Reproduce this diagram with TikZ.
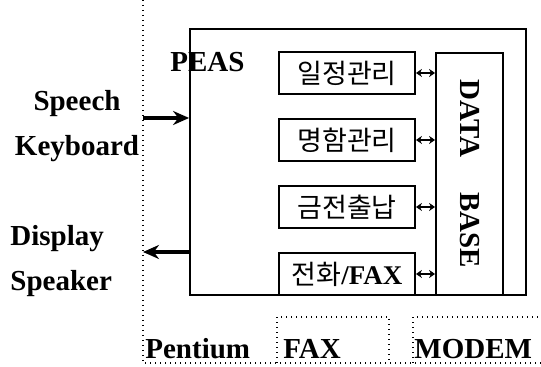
\documentclass[tikz,border=0pt]{standalone}
\usepackage{fontspec}
\setmainfont{Liberation Serif}
\newfontfamily\kr{Noto Sans CJK KR}
\usetikzlibrary{positioning,arrows.meta}
\tikzstyle{input} = [coordinate]
\tikzstyle{output} = [coordinate]
\tikzstyle{txt} = [inner sep=0pt, font=\fontsize{14.5}{17}\selectfont\bfseries]
\tikzstyle{task} = [draw, rectangle, line width=0.9pt, minimum width=68pt, minimum height=21pt, inner sep=0pt, font=\fontsize{13.5}{16}\selectfont]
\tikzstyle{frame} = [line width=0.6pt, dash pattern=on 0.5pt off 2pt]
\tikzstyle{link} = [{Stealth[length=3pt,width=4pt]}-{Stealth[length=3pt,width=4pt]}, line width=0.9pt]
\tikzstyle{io} = [-{Stealth[length=8pt,width=7pt]}, line width=1.6pt]

\begin{document}
\begin{tikzpicture}[x=0.5pt, y=-0.5pt, node distance=33.5pt]
		\useasboundingbox (0,0) rectangle (541,367);
		% system frame
		\node [draw, rectangle, line width=0.9pt, minimum width=168pt, minimum height=133pt] (peas) at (358,162) {};
		\node [txt, anchor=base west] (peaslabel) at (170,72) {PEAS};
		% tasks
		\node [task] (sched) at (347,73) {\kr 일정관리};
		\node [task, below of=sched] (card) {\kr 명함관리};
		\node [task, below of=card] (money) {\kr 금전출납};
		\node [task, below of=money] (phone) {{\kr 전화}\bfseries/FAX};
		\node [draw, rectangle, line width=0.9pt, rotate=-90, minimum width=121pt, minimum height=33.5pt, txt] (db) at (469.5,174) {DATA\hspace{17.5pt}BASE};

		\draw [link] (sched.east) -- (sched.east -| db.south);
		\draw [link] (card.east) -- (card.east -| db.south);
		\draw [link] (money.east) -- (money.east -| db.south);
		\draw [link] (phone.east) -- (phone.east -| db.south);

		% devices
		\node [txt, align=center] (inlabel) at (77,126) {Speech\\[5.5pt]Keyboard};
		\node [txt, align=left, anchor=west] (outlabel) at (10,261) {Display\\[5.5pt]Speaker};
		\node [input, name=input] (input) at (143,118) {};
		\node [output, name=output] (output) at (143,252) {};
		\draw [io] (input) -- (input -| peas.west);
		\draw [io] (output -| peas.west) -- (output);

		% hardware
		\draw [frame] (143,0) -- (143,363) -- (541,363);
		\draw [frame] (277,363) |- (389,317) -- (389,363);
		\draw [frame] (413,363) |- (541,317);
		\node [txt, anchor=base west] (pentium) at (145,359) {Pentium};
		\node [txt, anchor=base west] (fax) at (283,359) {FAX};
		\node [txt, anchor=base west] (modem) at (414,359) {MODEM};
\end{tikzpicture}
\end{document}
